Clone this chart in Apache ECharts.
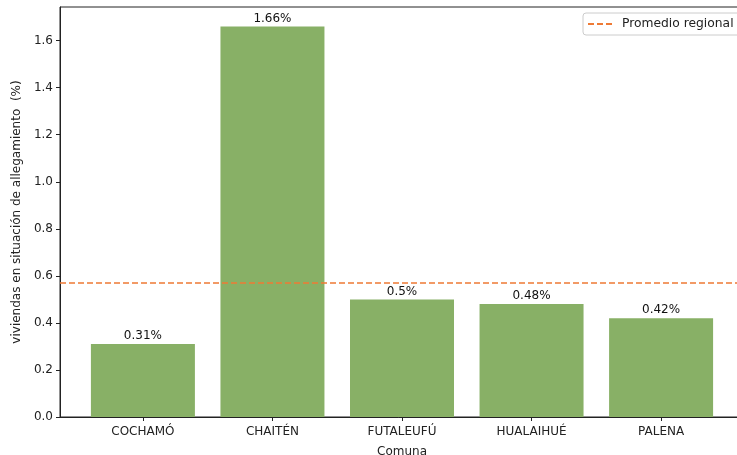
<!DOCTYPE html>
<html>
<head>
<meta charset="utf-8">
<script src="https://cdn.jsdelivr.net/npm/echarts@6/dist/echarts.min.js"></script>
<style>html,body{margin:0;padding:0;background:#fff;}#c{width:737px;height:455px;}</style>
</head>
<body>
<div id="c"></div>
<script>
const categories = ['COCHAMÓ', 'CHAITÉN', 'FUTALEUFÚ', 'HUALAIHUÉ', 'PALENA'];
const values = [0.31, 1.66, 0.50, 0.48, 0.42];
const labels = ['0.31%', '1.66%', '0.5%', '0.48%', '0.42%'];
const regionalAverage = 0.57;
const yTicks = [0, 0.2, 0.4, 0.6, 0.8, 1.0, 1.2, 1.4, 1.6];

const font = 'DejaVu Sans';
const xPositions = categories.map((c, i) => i);
const chart = echarts.init(document.getElementById('c'));
chart.setOption({
  animation: false,
  backgroundColor: '#fff',
  textStyle: { fontFamily: font },
  grid: { left: 60, top: 7, width: 684, height: 410, outerBoundsMode: 'none', containLabel: false, show: true, borderColor: '#222', borderWidth: 1, backgroundColor: 'transparent' },
  legend: {
    left: 583, top: 13,
    padding: [5, 8, 5, 4],
    itemWidth: 25, itemHeight: 14,
    backgroundColor: '#fff',
    borderColor: '#ccc', borderWidth: 1, borderRadius: 3,
    itemStyle: { opacity: 0 },
    textStyle: { fontFamily: font, fontSize: 12.3, color: '#222', padding: [0, 0, 0, 4] },
    data: [{ name: 'Promedio regional' }]
  },
  xAxis: {
    type: 'value', min: -0.64, max: 4.64,
    name: 'Comuna', nameLocation: 'middle', nameGap: 29,
    nameTextStyle: { fontFamily: font, fontSize: 12, color: '#222' },
    axisLine: { show: true, onZero: false, lineStyle: { color: '#222', width: 1 } },
    axisTick: { show: true, length: 4, customValues: xPositions, lineStyle: { color: '#222' } },
    axisLabel: { customValues: xPositions, formatter: v => categories[Math.round(v)] || '', fontFamily: font, fontSize: 12, color: '#222', margin: 9 },
    splitLine: { show: false }
  },
  yAxis: {
    type: 'value', min: 0, max: 1.743,
    name: 'viviendas en situación de allegamiento  (%)', nameLocation: 'middle', nameGap: 36,
    nameTextStyle: { fontFamily: font, fontSize: 12, color: '#222' },
    axisLine: { show: true, onZero: false, lineStyle: { color: '#222', width: 1 } },
    axisTick: { show: true, length: 4, customValues: yTicks, lineStyle: { color: '#222' } },
    axisLabel: { customValues: yTicks, formatter: v => v.toFixed(1), fontFamily: font, fontSize: 12, color: '#222', margin: 7 },
    splitLine: { show: false }
  },
  series: [
    {
      type: 'bar',
      name: 'bars',
      data: values.map((v, i) => [i, v]),
      barWidth: 104,
      itemStyle: { color: '#88b066' },
      label: { show: true, position: 'top', distance: 2, formatter: p => labels[p.dataIndex], fontFamily: font, fontSize: 12, color: '#111' }
    },
    {
      type: 'line',
      name: 'Promedio regional',
      data: [],
      symbol: 'none',
      itemStyle: { color: '#ee7a35' },
      lineStyle: { color: '#ee7a35', type: [6, 3], width: 1.5 },
      markLine: {
        silent: true, symbol: 'none', label: { show: false },
        lineStyle: { color: '#ee7a35', type: [6, 3], width: 1.5 },
        data: [{ yAxis: regionalAverage }]
      }
    }
  ]
});
</script>
</body>
</html>
